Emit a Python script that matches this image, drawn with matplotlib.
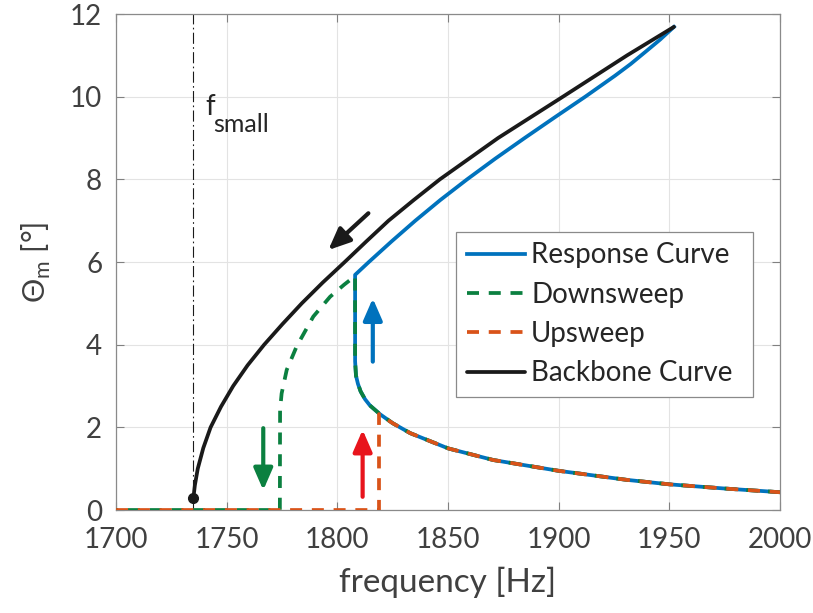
import matplotlib
matplotlib.use("Agg")
import matplotlib.pyplot as plt

plt.rcParams["font.family"] = ["Lato", "DejaVu Sans"]
plt.rcParams["mathtext.fontset"] = "custom"
plt.rcParams["mathtext.rm"] = "Lato"

# Backbone curve (free response): amplitude vs. frequency
theta_backbone = [0.28, 0.6, 1.0, 1.5, 2.0, 2.5, 3.0, 3.5, 4.0, 4.5, 5.0, 5.5,
                  6.0, 6.5, 7.0, 7.5, 8.0, 9.0, 10.0, 11.0, 11.69]
freq_backbone = [1734.9, 1735.6, 1736.9, 1739.4, 1742.7, 1747.4, 1752.9, 1759.4,
                 1766.9, 1775.2, 1783.9, 1793.3, 1803.3, 1813.1, 1823.1, 1834.5,
                 1846.3, 1872.6, 1901.9, 1930.9, 1952.1]

# Forced response curve: upper branch, jump, lower branch
freq_response = [1952.1, 1945.8, 1939.3, 1932.5, 1925.5, 1912.0, 1898.2, 1884.6,
                 1871.3, 1858.6, 1846.5, 1835.2, 1824.5, 1814.2, 1808.0,
                 1808.0, 1808.4, 1809.3, 1810.5, 1812.5, 1814.7, 1819.2, 1825.0,
                 1832.9, 1850.1, 1870.4, 1899.8, 1930.7, 1950.3, 1975.0, 2000.0]
theta_response = [11.69, 11.38, 11.09, 10.79, 10.51, 10.0, 9.5, 9.0,
                  8.5, 8.0, 7.5, 7.0, 6.5, 6.0, 5.69,
                  3.60, 3.25, 3.05, 2.87, 2.68, 2.53, 2.32, 2.10,
                  1.86, 1.49, 1.21, 0.95, 0.73, 0.62, 0.52, 0.43]

# Downsweep measurement (2000 Hz -> 1700 Hz)
freq_down = [2000.0, 1975.0, 1950.3, 1930.7, 1899.8, 1870.4, 1850.1, 1832.9,
             1825.0, 1819.2, 1814.7, 1812.5, 1810.5, 1809.3, 1808.4, 1808.0,
             1808.0, 1803.0, 1796.7, 1789.1, 1781.6, 1777.1, 1774.8, 1774.1,
             1774.0, 1700.0]
theta_down = [0.43, 0.52, 0.62, 0.73, 0.95, 1.21, 1.49, 1.86,
              2.10, 2.32, 2.53, 2.68, 2.87, 3.05, 3.25, 3.60,
              5.66, 5.45, 5.16, 4.68, 3.96, 3.39, 2.82, 2.42,
              0.0, 0.0]

# Upsweep measurement (1700 Hz -> 2000 Hz)
freq_up = [1700.0, 1818.8, 1818.8, 1825.0, 1832.9, 1850.1, 1870.4, 1899.8,
           1930.7, 1950.3, 1975.0, 2000.0]
theta_up = [0.0, 0.0, 2.32, 2.10, 1.86, 1.49, 1.21, 0.95,
            0.73, 0.62, 0.52, 0.43]

f_small = 1734.9

x_ticks = [1700, 1750, 1800, 1850, 1900, 1950, 2000]
y_ticks = [0, 2, 4, 6, 8, 10, 12]
legend_labels = ["Response Curve", "Downsweep", "Upsweep", "Backbone Curve"]

BLUE = "#0072BD"
GREEN = "#0B8040"
ORANGE = "#D95319"
BLACK = "#1a1a1a"
RED = "#E8141C"

fig = plt.figure(figsize=(8.13, 6.13), dpi=100)
ax = fig.add_axes([0.1428, 0.168, 0.8166, 0.8091])

ax.axvline(f_small, color=BLACK, lw=0.8, dashes=(10, 3, 1.5, 3), zorder=1.5)

lw = 2.7
dash = (3.2, 2.6)
l_resp, = ax.plot(freq_response, theta_response, color=BLUE, lw=lw, zorder=2,
                  solid_joinstyle="round")
l_down, = ax.plot(freq_down, theta_down, color=GREEN, lw=lw, dashes=dash,
                  zorder=3)
l_up, = ax.plot(freq_up, theta_up, color=ORANGE, lw=lw, dashes=dash,
                zorder=4)
l_bb, = ax.plot(freq_backbone, theta_backbone, color=BLACK, lw=lw, zorder=5,
                solid_capstyle="round", solid_joinstyle="round")
ax.plot(freq_backbone[0], theta_backbone[0], "o", color=BLACK, ms=7, zorder=5)

# Sweep-direction arrows
arrow_specs = [
    ((1814.0, 7.18), (1795.9, 6.29), BLACK),
    ((1816.0, 3.59), (1816.0, 5.12), BLUE),
    ((1766.5, 1.98), (1766.5, 0.48), GREEN),
    ((1811.4, 0.32), (1811.4, 1.94), RED),
]
for tail, tip, col in arrow_specs:
    ax.annotate("", xy=tip, xytext=tail,
                arrowprops=dict(arrowstyle="-|>,head_length=0.55,head_width=0.24",
                                color=col, lw=3.0, mutation_scale=24,
                                shrinkA=0, shrinkB=0))

ax.text(1740.2, 9.56, "f", fontsize=20, color="#262626", va="baseline")
ax.text(1743.8, 9.15, "small", fontsize=18, color="#262626", va="baseline")

ax.set_xlim(1700, 2000)
ax.set_ylim(0, 12)
ax.set_xticks(x_ticks)
ax.set_yticks(y_ticks)
ax.grid(True, color="#e3e3e3", lw=0.8)
ax.set_axisbelow(True)
ax.tick_params(direction="in", length=6, width=0.8, top=True, right=True,
               labelsize=20, labelcolor="#404040", color="#808080")
ax.tick_params(axis="x", pad=12)
ax.tick_params(axis="y", pad=10)
for sp in ax.spines.values():
    sp.set_color("#8a8a8a")
    sp.set_linewidth(0.9)

ax.set_xlabel("frequency [Hz]", fontsize=24, color="#404040", labelpad=10)
ax.set_ylabel(r"Θ$_\mathregular{m}$ [°]", fontsize=22, color="#404040", labelpad=12)

leg = ax.legend([l_resp, l_down, l_up, l_bb], legend_labels,
                loc="upper left", bbox_to_anchor=(0.512, 0.561, 0.447, 0.0),
                mode="expand", fontsize=20, frameon=True, fancybox=False,
                framealpha=1, edgecolor="#8a8a8a", handlelength=2.1,
                handletextpad=0.22, labelspacing=0.48, borderpad=0.38,
                borderaxespad=0)
leg.get_frame().set_linewidth(0.9)
for t in leg.get_texts():
    t.set_color("#262626")

fig.savefig("out.png", dpi=100, facecolor="white")
